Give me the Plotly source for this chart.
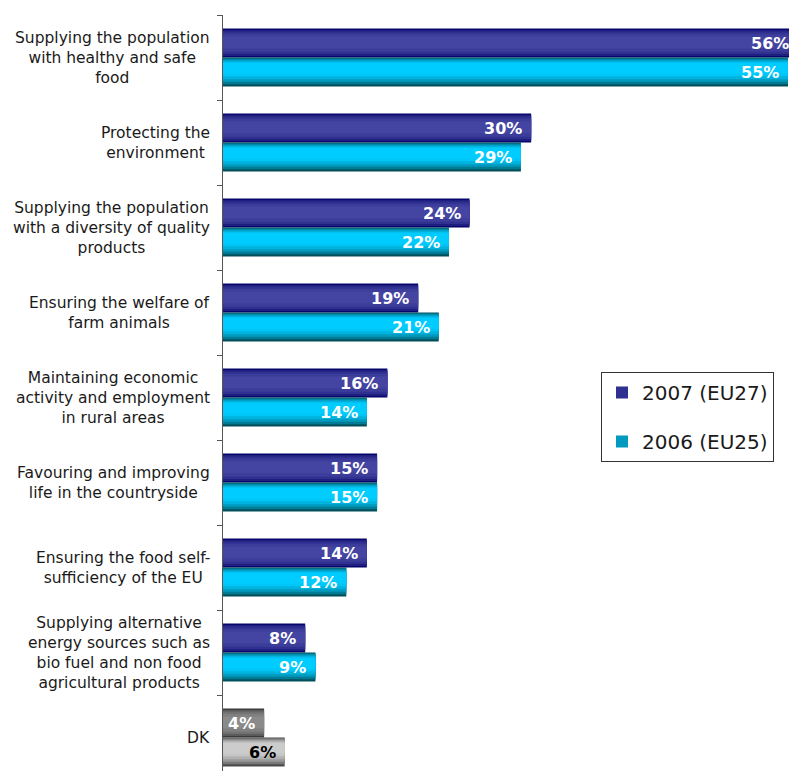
import plotly.graph_objects as go

categories = [
    "Supplying the population<br>with healthy and safe<br>food",
    "Protecting the<br>environment",
    "Supplying the population<br>with a diversity of quality<br>products",
    "Ensuring the welfare of<br>farm animals",
    "Maintaining economic<br>activity and employment<br>in rural areas",
    "Favouring and improving<br>life in the countryside",
    "Ensuring the food self-<br>sufficiency of the EU",
    "Supplying alternative<br>energy sources such as<br>bio fuel and non food<br>agricultural products",
    "DK",
]
values_2007 = [56, 30, 24, 19, 16, 15, 14, 8, 4]
values_2006 = [55, 29, 22, 21, 14, 15, 12, 9, 6]
series_names = ["2007 (EU27)", "2006 (EU25)"]

FONT = "Verdana, DejaVu Sans, sans-serif"
W, H = 789, 771
ML, MT = 223, 15
PLOT_W = W - ML
CAT_PX = 85.0
BAR_H = 29 / CAT_PX
XMAX = 55.1
PX_PER_UNIT = PLOT_W / XMAX

def hx(c):
    c = c.lstrip('#')
    return [int(c[i:i+2], 16) for i in (0, 2, 4)]

def mix(c1, c2, t):
    a, b = hx(c1), hx(c2)
    return '#' + ''.join('%02x' % round(a[i] + (b[i] - a[i]) * t) for i in range(3))

styles = [
    dict(edge='#06066c', mid='#4444a2', dk_edge='#3c3c3c', dk_mid='#8a8a8a',
         layers=[(0, 1, 0), (0.05, 0.95, 0.4), (0.1, 0.88, 0.68), (0.18, 0.8, 0.87), (0.28, 0.68, 1.0)],
         top=-BAR_H, textshift=14.5),
    dict(edge='#00505c', mid='#00ccff', dk_edge='#4c4c4c', dk_mid='#cccccc',
         layers=[(0, 1, 0), (0.03, 0.92, 0.35), (0.07, 0.84, 0.6), (0.11, 0.75, 0.8), (0.16, 0.65, 0.95), (0.2, 0.55, 1.0)],
         top=0.0, textshift=-14.5),
]
series_values = [values_2007, values_2006]

fig = go.Figure()
ypos = list(range(len(categories)))
for s, (st, vals, name) in enumerate(zip(styles, series_values, series_names)):
    for k, (ft, fb, t) in enumerate(st['layers']):
        cols = [mix(st['dk_edge'], st['dk_mid'], t) if c == "DK" else mix(st['edge'], st['mid'], t)
                for c in categories]
        fig.add_trace(go.Bar(
            x=vals, y=ypos, orientation='h',
            offset=st['top'] + ft * BAR_H, width=(fb - ft) * BAR_H,
            marker=dict(color=cols, line=dict(width=0)),
            name=name, legendgroup=name,
            showlegend=(k == 2), hoverinfo='skip',
        ))

annotations = []
for s, (st, vals) in enumerate(zip(styles, series_values)):
    for i, v in enumerate(vals):
        col = 'black' if (categories[i] == "DK" and s == 1) else 'white'
        xa = min(v, XMAX * 0.9999)
        annotations.append(dict(
            x=xa, y=i, xref='x', yref='y', xanchor='right', yanchor='middle',
            xshift=-7 + (v - xa) * PX_PER_UNIT, yshift=st['textshift'], showarrow=False,
            text="%d%%" % v, font=dict(family=FONT, size=16, color=col, weight='bold'),
        ))
for i, c in enumerate(categories):
    annotations.append(dict(
        x=0, y=i, xref='paper', yref='y', xanchor='right', yanchor='middle',
        xshift=-11, showarrow=False, align='center', text=c,
        font=dict(family=FONT, size=15.5, color='#1a1a1a'),
    ))

n = len(categories)
fig.update_layout(
    width=W, height=H,
    margin=dict(l=ML, r=0, t=MT, b=0),
    paper_bgcolor='white', plot_bgcolor='white',
    barmode='overlay',
    showlegend=True,
    legend=dict(x=(601 - ML) / PLOT_W, y=(H - 372) / (H - MT), xanchor='left', yanchor='top',
                bordercolor='#333333', borderwidth=1, bgcolor='white',
                font=dict(family=FONT, size=20, color='#1a1a1a'),
                tracegroupgap=20, traceorder='grouped'),
    annotations=annotations,
    xaxis=dict(range=[0, XMAX], visible=False, fixedrange=True),
    yaxis=dict(range=[-0.5 + (H - MT) / CAT_PX, -0.5], showline=True, linecolor='#555555', linewidth=1,
               ticks='outside', ticklen=5, tickcolor='#555555',
               tickvals=[i - 0.5 for i in range(n + 1)], showticklabels=False,
               showgrid=False, zeroline=False, fixedrange=True),
)
fig.write_html("out.html", config={'displayModeBar': False},
               post_script="document.body.style.margin='0px';")
